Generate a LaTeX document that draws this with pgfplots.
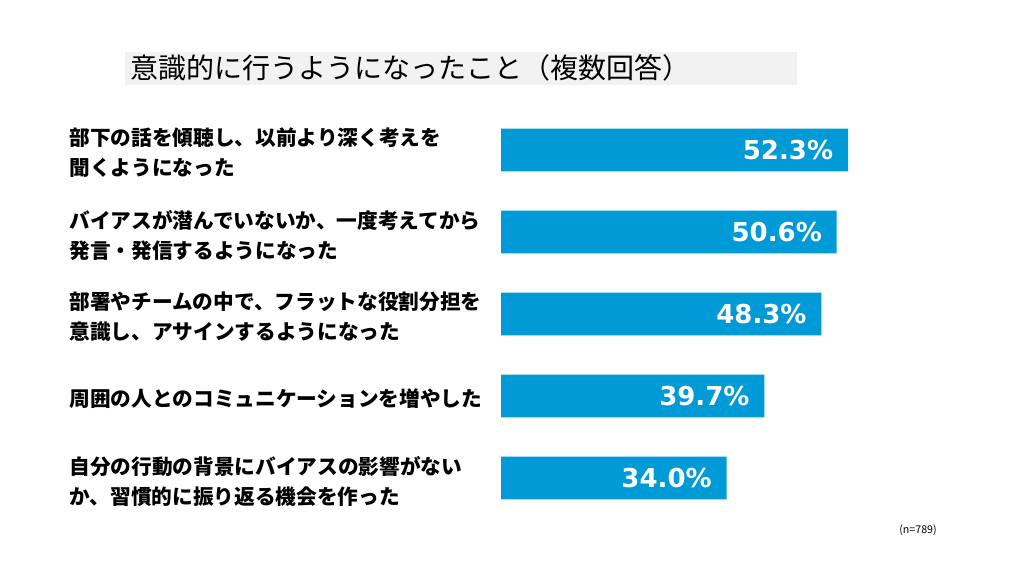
\documentclass[border=0pt]{standalone}
\usepackage{pgfplots}
\usepackage{pgfplotstable}
\pgfplotsset{compat=1.18}
\usepackage{fontspec}
\setmainfont{Noto Sans CJK JP}
\newfontfamily\numfont{DejaVu Sans}
\definecolor{barblue}{HTML}{009AD6}
\definecolor{titlegray}{HTML}{F2F2F2}

\pgfplotstableread{
pos share
0 52.3
1 50.6
2 48.3
3 39.7
4 34.0
}\shares

\begin{document}
\begin{tikzpicture}[x=0.75pt,y=0.75pt]
  % canvas, title box and note
  \fill[white] (0,0) rectangle (1023,575);
  \fill[titlegray] (125,490) rectangle (797,523);
  \node[anchor=west, inner sep=0, font=\fontsize{21}{25}\selectfont] at (130,507)
    {意識的に行うようになったこと（複数回答）};
  \node[anchor=east, inner sep=0, font=\fontsize{8}{10}\selectfont] at (937,45) {(n=789)};

  \begin{axis}[
    at={(501pt*0.75,466pt*0.75)}, anchor=north west,
    x=4.976pt, y=61.5pt, y dir=reverse,
    xmin=0, xmax=60, ymin=-0.5, ymax=4.5,
    xbar, bar width=0.52,
    axis line style={draw=none},
    tick style={draw=none},
    xtick=\empty,
    ytick={0,1,2,3,4},
    yticklabels={
      {部下の話を傾聴し、以前より深く考えを\\聞くようになった},
      {バイアスが潜んでいないか、一度考えてから\\発言・発信するようになった},
      {部署やチームの中で、フラットな役割分担を\\意識し、アサインするようになった},
      {周囲の人とのコミュニケーションを増やした},
      {自分の行動の背景にバイアスの影響がない\\か、習慣的に振り返る機会を作った}
    },
    yticklabel style={anchor=west, align=left, inner sep=0,
      xshift=-319.5pt, yshift=-2.25pt, font=\bfseries\fontsize{15.5}{22.5}\selectfont},
    nodes near coords={\pgfmathprintnumber[fixed,fixed zerofill,precision=1,assume math mode=true]{\pgfplotspointmeta}\%},
    nodes near coords style={anchor=east, inner sep=0, xshift=-11pt, text=white,
      font=\numfont\bfseries\fontsize{19.5}{22}\selectfont},
    clip=false,
  ]
    \addplot[fill=barblue, draw=none] table[x=share, y=pos] {\shares};
  \end{axis}
\end{tikzpicture}
\end{document}
